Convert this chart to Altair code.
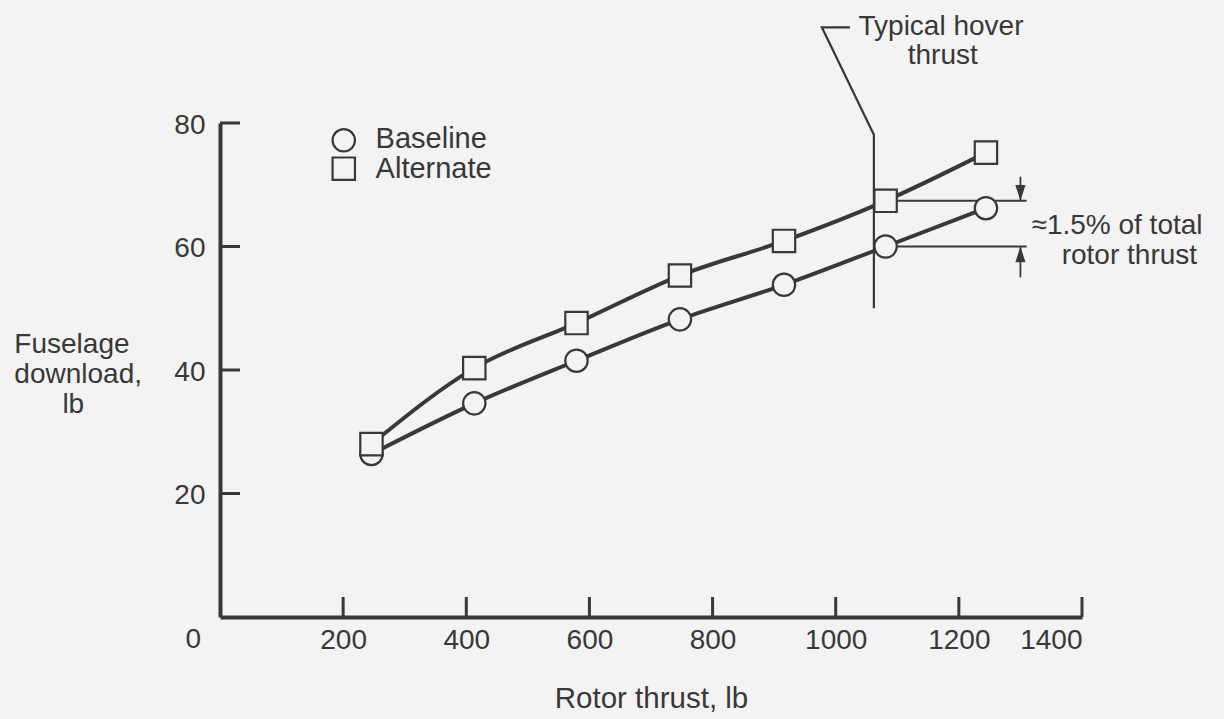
import altair as alt
import pandas as pd

# ---- data ----
thrust = [246, 413, 579, 747, 916, 1081, 1244]
baseline = [26.4, 34.6, 41.5, 48.2, 53.8, 60.0, 66.2]
alternate = [28.0, 40.3, 47.6, 55.3, 60.9, 67.4, 75.2]
series_names = ["Baseline", "Alternate"]
series_shapes = ["circle", "square"]

x_ticks = [200, 400, 600, 800, 1000, 1200, 1400]
y_ticks = [20, 40, 60, 80]

# legend entries (placed inside the plot, upper left)
legend_x = [201, 201]
legend_y = [77.2, 72.6]
legend_label_x = [252.7, 252.7]
legend_label_y = [75.9, 71.1]

# "Typical hover thrust" marker line and its leader
hover_x = [1023, 977.5, 1062, 1062]
hover_y = [95.5, 95.5, 78.1, 50.0]

# gap annotation (~1.5 % of total rotor thrust)
gap_x_end = 1310
arrow_x = 1300
arrow_tail_top = 71.3
arrow_tail_bottom = 55.0

note_text = ["Typical hover", "thrust", "\u22481.5% of total", "rotor thrust"]
note_x = [1037, 1117, 1318, 1367]
note_y = [94.2, 89.5, 62.1, 57.2]

ytitle_text = ["Fuselage", "download,", "lb"]
ytitle_x = [-334, -334, -256]
ytitle_y = [42.7, 37.85, 33.0]

# ---- styling ----
INK = "#383838"
BG = "#f3f3f3"
FONT = "Liberation Sans"
FS = 28
W, H = 862, 494

xs = alt.Scale(domain=[0, 1400], nice=False, zero=False)
ys = alt.Scale(domain=[0, 80], nice=False, zero=False)
shape_scale = alt.Scale(domain=series_names, range=series_shapes)

rows = []
for name, vals in zip(series_names, [baseline, alternate]):
    for t, v in zip(thrust, vals):
        rows.append({"series": name, "thrust": t, "value": v})
df = pd.DataFrame(rows)

x_axis = alt.Axis(values=x_ticks, format="d", ticks=False, tickSize=0, grid=False,
                  labelFontSize=FS, labelFont=FONT, labelColor=INK, labelPadding=9,
                  domainColor=INK, domainWidth=4, title="Rotor thrust, lb",
                  titleFontSize=29.5, titleFont=FONT, titleColor=INK, titleFontWeight="normal",
                  titleX=431, titleY=90, titleAlign="center", titleBaseline="alphabetic")
y_axis = alt.Axis(values=y_ticks, format="d", ticks=False, tickSize=0, grid=False,
                  labelFontSize=FS, labelFont=FONT, labelColor=INK, labelPadding=15,
                  labelBaseline="middle", labelOffset=2,
                  domainColor=INK, domainWidth=4, title=None)


def X(field):
    return alt.X(field, scale=xs, axis=x_axis)


def Y(field):
    return alt.Y(field, scale=ys, axis=y_axis)


lines = alt.Chart(df).mark_line(interpolate="monotone", strokeWidth=4, color=INK).encode(
    x=X("thrust:Q"), y=Y("value:Q"), detail="series:N",
)

hover_df = pd.DataFrame({"x": hover_x, "y": hover_y, "o": list(range(len(hover_x)))})
hover = alt.Chart(hover_df).mark_line(strokeWidth=2.2, color=INK).encode(
    x=X("x:Q"), y=Y("y:Q"), order="o:Q",
)

gap_df = pd.DataFrame({"x": [thrust[5], thrust[5]], "x2": [gap_x_end, gap_x_end],
                       "y": [alternate[5], baseline[5]]})
gap = alt.Chart(gap_df).mark_rule(strokeWidth=2, color=INK).encode(
    x=X("x:Q"), x2="x2:Q", y=Y("y:Q"),
)

shaft_df = pd.DataFrame({"x": [arrow_x, arrow_x],
                         "y": [arrow_tail_top, arrow_tail_bottom],
                         "y2": [alternate[5], baseline[5]]})
shafts = alt.Chart(shaft_df).mark_rule(strokeWidth=1.8, color=INK).encode(
    x=X("x:Q"), y=Y("y:Q"), y2="y2:Q",
)

head_down = alt.Chart(pd.DataFrame({"x": [arrow_x], "y": [alternate[5]]})).mark_point(
    shape="M-0.32,-1L0.32,-1L0,0Z", filled=True, fill=INK, strokeWidth=0, size=1000, opacity=1
).encode(x=X("x:Q"), y=Y("y:Q"))
head_up = alt.Chart(pd.DataFrame({"x": [arrow_x], "y": [baseline[5]]})).mark_point(
    shape="M-0.32,1L0.32,1L0,0Z", filled=True, fill=INK, strokeWidth=0, size=1000, opacity=1
).encode(x=X("x:Q"), y=Y("y:Q"))

marker_style = dict(filled=False, fill=BG, fillOpacity=1, stroke=INK,
                    strokeWidth=2.2, size=500, opacity=1)

points = alt.Chart(df).mark_point(**marker_style).encode(
    x=X("thrust:Q"), y=Y("value:Q"),
    shape=alt.Shape("series:N", scale=shape_scale, legend=None),
)

leg_df = pd.DataFrame({"series": series_names, "x": legend_x, "y": legend_y,
                       "lx": legend_label_x, "ly": legend_label_y})
leg_sym = alt.Chart(leg_df).mark_point(**marker_style).encode(
    x=X("x:Q"), y=Y("y:Q"),
    shape=alt.Shape("series:N", scale=shape_scale, legend=None),
)
leg_txt = alt.Chart(leg_df).mark_text(fontSize=29, font=FONT, color=INK, align="left",
                                      baseline="alphabetic").encode(
    x=X("lx:Q"), y=Y("ly:Q"), text="series:N",
)

xtick_df = pd.DataFrame({"t": x_ticks})
xticks = alt.Chart(xtick_df).mark_rule(strokeWidth=3, color=INK).encode(
    x=X("t:Q"), y=alt.value(H), y2=alt.value(H - 20),
)
ytick_df = pd.DataFrame({"t": y_ticks})
yticks = alt.Chart(ytick_df).mark_rule(strokeWidth=3, color=INK).encode(
    y=Y("t:Q"), x=alt.value(0), x2=alt.value(20),
)

zero = alt.Chart(pd.DataFrame({"x": [0], "y": [0], "t": ["0"]})).mark_text(
    fontSize=FS, font=FONT, color=INK, align="right", baseline="top", dx=-19, dy=9
).encode(x=X("x:Q"), y=Y("y:Q"), text="t:N")

note_df = pd.DataFrame({"text": note_text, "x": note_x, "y": note_y})
notes = alt.Chart(note_df).mark_text(fontSize=FS, font=FONT, color=INK, align="left",
                                     baseline="alphabetic").encode(
    x=X("x:Q"), y=Y("y:Q"), text="text:N",
)

ytitle_df = pd.DataFrame({"text": ytitle_text, "x": ytitle_x, "y": ytitle_y})
ytitle = alt.Chart(ytitle_df).mark_text(fontSize=FS, font=FONT, color=INK, align="left",
                                        baseline="alphabetic").encode(
    x=X("x:Q"), y=Y("y:Q"), text="text:N",
)

chart = alt.layer(lines, hover, gap, shafts, head_down, head_up, points,
                  leg_sym, leg_txt, xticks, yticks, zero, notes, ytitle).properties(
    width=W, height=H, background=BG,
    autosize=alt.AutoSizeParams(type="none"),
    padding={"left": 220, "top": 123, "right": 142, "bottom": 102},
).configure_view(stroke=None)

chart.save("out.html", embed_options={"renderer": "svg", "actions": False})
